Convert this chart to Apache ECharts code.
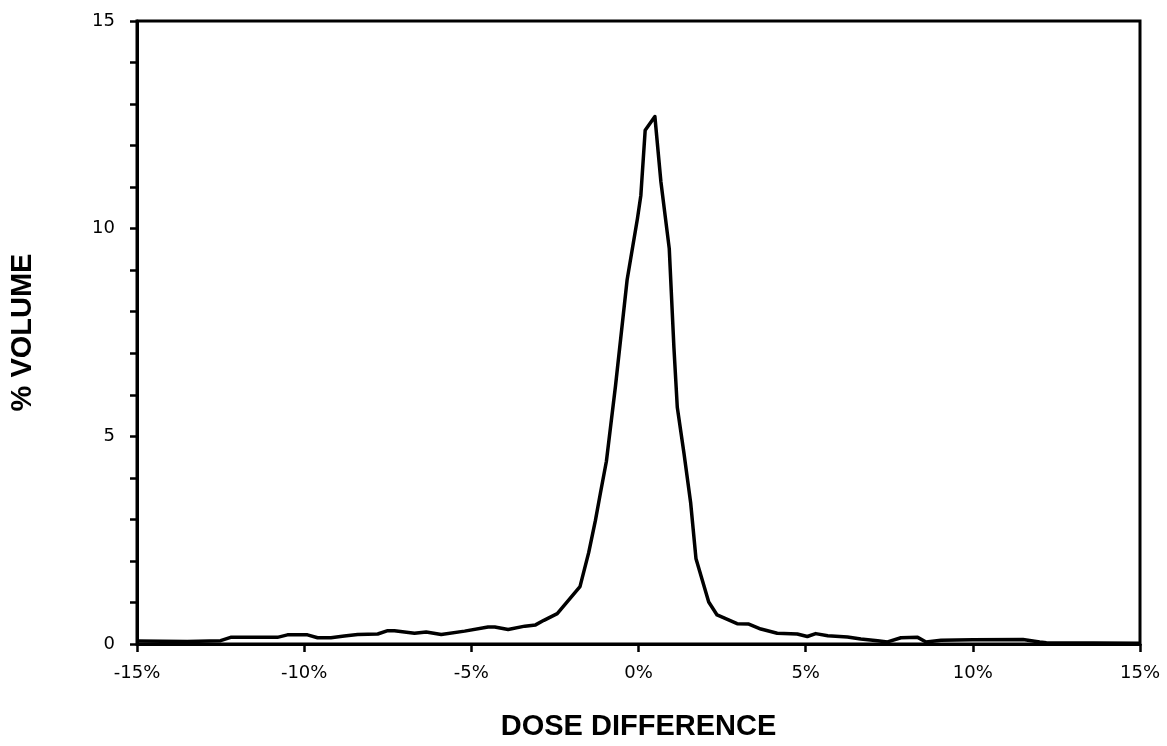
<!DOCTYPE html>
<html>
<head>
<meta charset="utf-8">
<script src="https://cdn.jsdelivr.net/npm/echarts@6/dist/echarts.min.js"></script>
<style>
  html, body { margin: 0; padding: 0; background: #fff; }
  #chart { width: 1167px; height: 746px; }
</style>
</head>
<body>
<div id="chart"></div>
<script>
// dose difference (%) and % volume
const doseDiff = [-15, -13.5, -12.5, -12.2, -10.8, -10.5, -9.9, -9.6, -9.2, -8.8, -8.4, -7.8, -7.5, -7.3,
  -6.7, -6.35, -5.9, -5.2, -4.5, -4.3, -3.9, -3.4, -3.08, -2.83, -2.43, -1.75, -1.49, -1.29, -1.14,
  -0.96, -0.69, -0.34, -0.03, 0.07, 0.2, 0.49, 0.67, 0.92, 1.06, 1.16, 1.36, 1.56, 1.72, 2.1, 2.35,
  2.95, 3.3, 3.66, 4.15, 4.75, 5.05, 5.3, 5.66, 6.25, 6.65, 7.15, 7.45, 7.85, 8.35, 8.6, 9.05, 10.0,
  11.5, 12.0, 12.2, 15];
const volumePct = [0.07, 0.06, 0.08, 0.16, 0.16, 0.22, 0.22, 0.15, 0.15, 0.19, 0.23, 0.24, 0.32, 0.32,
  0.26, 0.29, 0.23, 0.31, 0.41, 0.41, 0.35, 0.43, 0.46, 0.57, 0.73, 1.38, 2.2, 2.97, 3.63,
  4.4, 6.2, 8.77, 10.25, 10.8, 12.37, 12.7, 11.13, 9.52, 7.13, 5.7, 4.59, 3.4, 2.05, 1.01, 0.7,
  0.49, 0.48, 0.36, 0.26, 0.24, 0.18, 0.25, 0.2, 0.17, 0.12, 0.08, 0.05, 0.15, 0.16, 0.05, 0.09, 0.1,
  0.11, 0.05, 0.03, 0.02];

const xTitle = 'DOSE DIFFERENCE';
const yTitle = '% VOLUME';

const pts = doseDiff.map((d, i) => [d, volumePct[i]]);

const myChart = echarts.init(document.getElementById('chart'));
const labelFont = { fontFamily: 'DejaVu Sans', fontSize: 18, color: '#000' };
const titleFont = { fontFamily: 'Liberation Sans', fontWeight: 'bold', fontSize: 29, color: '#000' };

const option = {
  animation: false,
  backgroundColor: '#fff',
  grid: {
    left: 137, right: 27, top: 21, bottom: 97,
    show: true, borderColor: '#000', borderWidth: 3
  },
  xAxis: {
    type: 'value',
    min: -15, max: 15, interval: 5,
    name: xTitle,
    nameLocation: 'middle',
    nameGap: 68,
    nameTextStyle: titleFont,
    axisLine: { show: true, onZero: false, lineStyle: { color: '#000', width: 3 } },
    axisTick: { show: true, length: 8, lineStyle: { color: '#000', width: 2.5 } },
    axisLabel: Object.assign({ margin: 20, formatter: '{value}%' }, labelFont),
    splitLine: { show: false }
  },
  yAxis: {
    type: 'value',
    min: 0, max: 15, interval: 5,
    name: yTitle,
    nameLocation: 'middle',
    nameGap: 100,
    nameRotate: 90,
    nameTextStyle: titleFont,
    axisLine: { show: true, onZero: false, lineStyle: { color: '#000', width: 3 } },
    axisTick: { show: true, length: 7, lineStyle: { color: '#000', width: 2.5 } },
    minorTick: { show: true, splitNumber: 5, length: 7, lineStyle: { color: '#000', width: 2.5 } },
    axisLabel: Object.assign({ margin: 22 }, labelFont),
    splitLine: { show: false }
  },
  series: [
    {
      type: 'line',
      data: pts,
      showSymbol: false,
      symbol: 'none',
      lineStyle: { color: '#000', width: 3.5, join: 'round' }
    }
  ]
};
myChart.setOption(option);
</script>
</body>
</html>
